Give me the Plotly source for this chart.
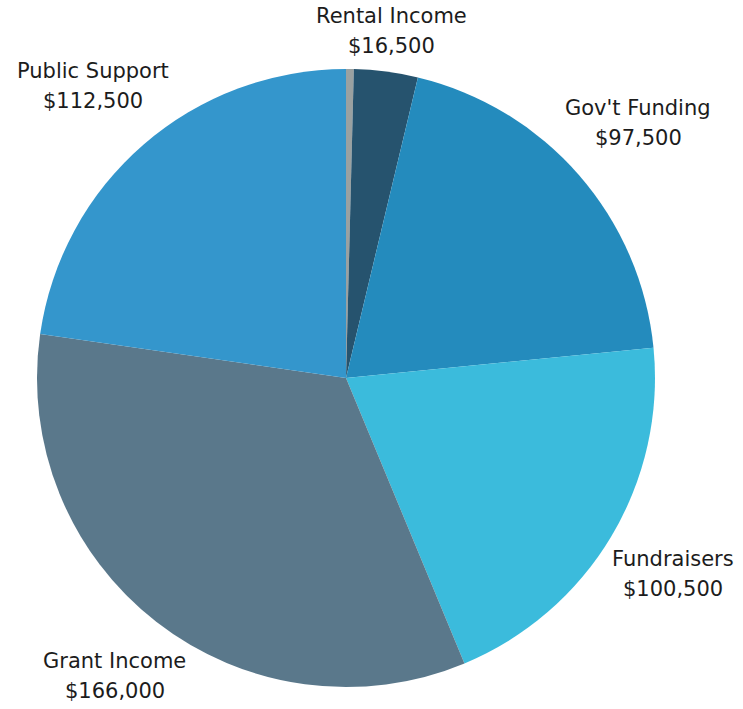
import math
import plotly.graph_objects as go

labels = ["Other", "Rental Income", "Gov't Funding", "Fundraisers", "Grant Income", "Public Support"]
values = [2000, 16500, 97500, 100500, 166000, 112500]
shown = [False, True, True, True, True, True]
colors = ["#9aa1a1", "#26536e", "#248bbd", "#3bbbdc", "#5a788b", "#3496cc"]

W, H = 743, 709
CX, CY, R = 346, 378, 309          # pie centre / radius in pixels
FONT = "DejaVu Sans"
FS = 21
PAD = 4
LINE_GAP = 30                      # pixels between the two label lines

fig = go.Figure(go.Pie(
    labels=labels,
    values=values,
    textinfo="none",
    sort=False,
    direction="clockwise",
    rotation=0,
    marker=dict(colors=colors, line=dict(width=0)),
    showlegend=False,
    hoverinfo="label+value+percent",
    domain=dict(x=[(CX - R) / W, (CX + R) / W],
                y=[1 - (CY + R) / H, 1 - (CY - R) / H]),
))

# outside labels, placed radially at each slice's mid-angle (derived from the values)
total = sum(values)
cum = 0
for lab, val, show in zip(labels, values, shown):
    mid = (cum + val / 2) / total * 2 * math.pi
    cum += val
    if not show:
        continue
    lines = [lab, f"${val:,}"]
    hw = max(len(s) for s in lines) * 0.55 * FS / 2
    hh = (LINE_GAP + FS * 1.2) / 2
    s, c = math.sin(mid), math.cos(mid)
    dist = R + PAD + hw * abs(s) + hh * abs(c)
    px = CX + dist * s
    py = CY - dist * c
    for i, line in enumerate(lines):
        ly = py + (i - 0.5) * LINE_GAP
        fig.add_annotation(
            x=px / W, y=1 - ly / H, xref="paper", yref="paper",
            text=line, showarrow=False, xanchor="center", yanchor="middle",
            align="center",
            font=dict(family=FONT, size=FS, color="#1c1c1c"),
        )

fig.update_layout(
    width=W, height=H,
    margin=dict(l=0, r=0, t=0, b=0),
    paper_bgcolor="white",
    plot_bgcolor="white",
)

fig.write_html("out.html", config={"displayModeBar": False},
               post_script="document.body.style.margin='0';")
